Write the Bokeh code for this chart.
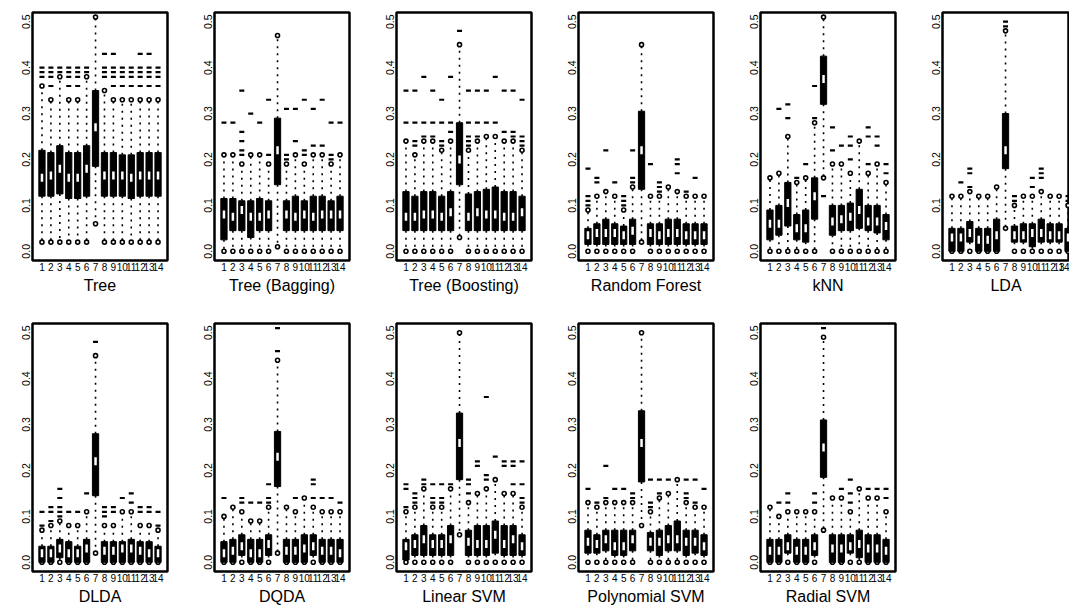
from bokeh.plotting import figure
from bokeh.layouts import gridplot
from bokeh.models import Range1d, FixedTicker, PrintfTickFormatter, ColumnDataSource
from bokeh.embed import file_html
from bokeh.resources import INLINE

POSITIONS = list(range(1, 15))
Y_TICKS = [0.0, 0.1, 0.2, 0.3, 0.4, 0.5]

# ---------------- data (per panel: lower hinge, median, upper hinge, whisker ends, outliers)
tree_q1 = [0.12, 0.12, 0.125, 0.115, 0.115, 0.12, 0.185, 0.12, 0.12, 0.12, 0.115, 0.12, 0.12, 0.12]
tree_med = [0.16, 0.165, 0.18, 0.16, 0.16, 0.18, 0.27, 0.165, 0.165, 0.165, 0.16, 0.165, 0.165, 0.165]
tree_q3 = [0.22, 0.215, 0.23, 0.215, 0.215, 0.23, 0.35, 0.215, 0.215, 0.21, 0.21, 0.215, 0.215, 0.215]
tree_lo = [0.02, 0.02, 0.02, 0.02, 0.02, 0.02, 0.06, 0.02, 0.02, 0.02, 0.02, 0.02, 0.02, 0.02]
tree_hi = [0.36, 0.33, 0.38, 0.33, 0.33, 0.38, 0.51, 0.35, 0.33, 0.33, 0.33, 0.33, 0.33, 0.33]
tree_out = [[0.38, 0.39, 0.40], [0.36, 0.38, 0.39, 0.40], [0.39, 0.40], [0.36, 0.38, 0.39, 0.40],
            [0.36, 0.38, 0.39, 0.40], [0.39, 0.40], [], [0.38, 0.39, 0.40, 0.43],
            [0.36, 0.38, 0.39, 0.40, 0.43], [0.36, 0.38, 0.39, 0.40], [0.36, 0.38, 0.39, 0.40],
            [0.36, 0.38, 0.39, 0.40, 0.43], [0.36, 0.38, 0.39, 0.40, 0.43], [0.36, 0.38, 0.39, 0.40]]

bag_q1 = [0.025, 0.045, 0.045, 0.03, 0.045, 0.045, 0.145, 0.045, 0.045, 0.045, 0.045, 0.045, 0.045, 0.045]
bag_med = [0.08, 0.075, 0.09, 0.075, 0.075, 0.08, 0.22, 0.08, 0.075, 0.08, 0.075, 0.08, 0.08, 0.08]
bag_q3 = [0.115, 0.115, 0.11, 0.11, 0.115, 0.11, 0.29, 0.11, 0.12, 0.11, 0.12, 0.12, 0.11, 0.12]
bag_lo = [0.0, 0.0, 0.0, 0.0, 0.0, 0.0, 0.01, 0.0, 0.0, 0.0, 0.0, 0.0, 0.0, 0.0]
bag_hi = [0.21, 0.21, 0.19, 0.21, 0.21, 0.19, 0.47, 0.19, 0.21, 0.19, 0.21, 0.21, 0.19, 0.21]
bag_out = [[0.28], [0.28], [0.21, 0.22, 0.24, 0.26, 0.35], [0.30], [0.28], [0.21, 0.33], [],
           [0.20, 0.21, 0.31], [0.24, 0.31], [0.21, 0.22, 0.33], [0.23, 0.31], [0.23, 0.33],
           [0.20, 0.21, 0.28], [0.28]]

boost_q1 = [0.045, 0.045, 0.045, 0.045, 0.045, 0.045, 0.145, 0.045, 0.045, 0.045, 0.045, 0.045, 0.045, 0.045]
boost_med = [0.075, 0.075, 0.08, 0.08, 0.075, 0.085, 0.20, 0.075, 0.085, 0.08, 0.08, 0.075, 0.075, 0.085]
boost_q3 = [0.13, 0.12, 0.13, 0.13, 0.12, 0.13, 0.28, 0.125, 0.13, 0.135, 0.14, 0.13, 0.13, 0.12]
boost_lo = [0.0, 0.0, 0.0, 0.0, 0.0, 0.0, 0.03, 0.0, 0.0, 0.0, 0.0, 0.0, 0.0, 0.0]
boost_hi = [0.24, 0.21, 0.24, 0.24, 0.22, 0.24, 0.45, 0.22, 0.24, 0.25, 0.25, 0.24, 0.24, 0.22]
boost_out = [[0.28, 0.35], [0.23, 0.24, 0.28, 0.35], [0.25, 0.28, 0.38], [0.25, 0.28, 0.35],
             [0.23, 0.24, 0.28, 0.33], [0.26, 0.28, 0.38], [0.48], [0.23, 0.24, 0.25, 0.28, 0.35],
             [0.25, 0.28, 0.35], [0.28, 0.35], [0.28, 0.38], [0.26, 0.35], [0.25, 0.26, 0.35],
             [0.23, 0.24, 0.25, 0.33]]

rf_q1 = [0.015, 0.015, 0.015, 0.015, 0.015, 0.015, 0.135, 0.015, 0.015, 0.015, 0.015, 0.015, 0.015, 0.015]
rf_med = [0.035, 0.04, 0.04, 0.04, 0.035, 0.045, 0.22, 0.04, 0.035, 0.04, 0.04, 0.035, 0.035, 0.035]
rf_q3 = [0.05, 0.06, 0.07, 0.06, 0.055, 0.07, 0.305, 0.06, 0.06, 0.07, 0.07, 0.06, 0.06, 0.06]
rf_lo = [0.0, 0.0, 0.0, 0.0, 0.0, 0.0, 0.02, 0.0, 0.0, 0.0, 0.0, 0.0, 0.0, 0.0]
rf_hi = [0.09, 0.12, 0.13, 0.12, 0.09, 0.14, 0.45, 0.12, 0.12, 0.14, 0.13, 0.12, 0.12, 0.12]
rf_out = [[0.10, 0.11, 0.12, 0.18], [0.15, 0.16], [0.22], [0.15], [0.10, 0.11, 0.12],
          [0.15, 0.16, 0.22], [], [0.19], [0.13, 0.14, 0.15], [], [0.17, 0.19, 0.20], [0.13],
          [0.16], []]

knn_q1 = [0.025, 0.035, 0.055, 0.025, 0.02, 0.07, 0.32, 0.035, 0.045, 0.045, 0.05, 0.045, 0.04, 0.025]
knn_med = [0.06, 0.06, 0.105, 0.05, 0.05, 0.12, 0.375, 0.065, 0.07, 0.075, 0.09, 0.065, 0.065, 0.055]
knn_q3 = [0.09, 0.10, 0.15, 0.08, 0.09, 0.16, 0.425, 0.10, 0.10, 0.105, 0.135, 0.10, 0.10, 0.08]
knn_lo = [0.0, 0.0, 0.0, 0.0, 0.0, 0.0, 0.16, 0.0, 0.0, 0.0, 0.0, 0.0, 0.0, 0.0]
knn_hi = [0.16, 0.17, 0.25, 0.15, 0.16, 0.28, 0.51, 0.19, 0.19, 0.17, 0.24, 0.17, 0.19, 0.15]
knn_out = [[], [0.31], [0.29, 0.32], [0.16], [0.19], [0.29, 0.36], [0.12], [0.22, 0.27], [0.23],
           [0.20, 0.23, 0.25], [], [0.19, 0.25, 0.27], [0.23, 0.25], [0.17, 0.19]]

lda_q1 = [0.0, 0.0, 0.02, 0.0, 0.0, 0.0, 0.18, 0.02, 0.02, 0.01, 0.02, 0.02, 0.02, 0.0]
lda_med = [0.03, 0.03, 0.04, 0.025, 0.025, 0.035, 0.22, 0.035, 0.035, 0.04, 0.04, 0.035, 0.035, 0.03]
lda_q3 = [0.05, 0.05, 0.065, 0.05, 0.05, 0.07, 0.30, 0.055, 0.06, 0.06, 0.07, 0.06, 0.06, 0.05]
lda_lo = [0.0, 0.0, 0.0, 0.0, 0.0, 0.0, 0.05, 0.0, 0.0, 0.0, 0.0, 0.0, 0.0, 0.0]
lda_hi = [0.12, 0.12, 0.13, 0.12, 0.12, 0.14, 0.48, 0.10, 0.12, 0.12, 0.13, 0.12, 0.12, 0.10]
lda_out = [[], [0.15], [0.14, 0.17, 0.18], [], [], [], [0.49, 0.50], [0.11, 0.12], [], [0.14, 0.16],
           [0.16, 0.17, 0.18], [], [], [0.11, 0.12]]

dlda_q1 = [0.0, 0.0, 0.01, 0.0, 0.0, 0.0, 0.145, 0.0, 0.0, 0.0, 0.0, 0.0, 0.0, 0.0]
dlda_med = [0.02, 0.02, 0.03, 0.02, 0.02, 0.03, 0.22, 0.025, 0.025, 0.03, 0.03, 0.025, 0.02, 0.02]
dlda_q3 = [0.035, 0.035, 0.05, 0.045, 0.035, 0.05, 0.28, 0.045, 0.045, 0.045, 0.05, 0.045, 0.045, 0.035]
dlda_lo = [0.0, 0.0, 0.0, 0.0, 0.0, 0.0, 0.02, 0.0, 0.0, 0.0, 0.0, 0.0, 0.0, 0.0]
dlda_hi = [0.07, 0.08, 0.09, 0.08, 0.08, 0.11, 0.45, 0.08, 0.08, 0.11, 0.11, 0.08, 0.08, 0.07]
dlda_out = [[0.08, 0.11], [0.09, 0.11, 0.12], [0.10, 0.11, 0.12, 0.14, 0.16], [0.11], [0.11], [0.15],
            [0.48], [0.10, 0.11, 0.12], [0.11, 0.12], [0.14], [0.13, 0.15], [0.11, 0.12],
            [0.11, 0.12], [0.08, 0.11]]

dqda_q1 = [0.0, 0.0, 0.015, 0.0, 0.0, 0.015, 0.165, 0.0, 0.0, 0.0, 0.015, 0.0, 0.0, 0.0]
dqda_med = [0.02, 0.025, 0.035, 0.02, 0.02, 0.04, 0.23, 0.025, 0.025, 0.03, 0.035, 0.025, 0.025, 0.02]
dqda_q3 = [0.045, 0.05, 0.06, 0.05, 0.05, 0.06, 0.285, 0.05, 0.05, 0.06, 0.06, 0.05, 0.05, 0.05]
dqda_lo = [0.0, 0.0, 0.0, 0.0, 0.0, 0.0, 0.02, 0.0, 0.0, 0.0, 0.0, 0.0, 0.0, 0.0]
dqda_hi = [0.10, 0.12, 0.11, 0.09, 0.09, 0.12, 0.44, 0.12, 0.11, 0.14, 0.12, 0.11, 0.11, 0.11]
dqda_out = [[0.14], [], [0.13, 0.14], [0.13], [0.13], [0.13, 0.14, 0.17], [0.46, 0.51], [], [0.14],
            [], [0.14, 0.17, 0.18], [0.14], [0.14], [0.13]]

lsvm_q1 = [0.005, 0.015, 0.015, 0.015, 0.015, 0.015, 0.18, 0.015, 0.015, 0.015, 0.02, 0.015, 0.015, 0.015]
lsvm_med = [0.035, 0.04, 0.05, 0.04, 0.04, 0.05, 0.26, 0.045, 0.04, 0.04, 0.06, 0.04, 0.05, 0.035]
lsvm_q3 = [0.05, 0.06, 0.08, 0.06, 0.06, 0.08, 0.325, 0.07, 0.08, 0.08, 0.09, 0.08, 0.08, 0.06]
lsvm_lo = [0.0, 0.0, 0.0, 0.0, 0.0, 0.0, 0.06, 0.0, 0.0, 0.0, 0.0, 0.0, 0.0, 0.0]
lsvm_hi = [0.11, 0.12, 0.16, 0.12, 0.12, 0.16, 0.50, 0.13, 0.15, 0.16, 0.18, 0.15, 0.15, 0.12]
lsvm_out = [[0.12, 0.16, 0.17], [0.13, 0.14, 0.15], [0.17, 0.18], [0.13, 0.14, 0.17],
            [0.13, 0.14, 0.17], [0.17], [], [0.15, 0.17, 0.18], [0.21, 0.22], [0.18, 0.19, 0.36],
            [0.23], [0.21, 0.22], [0.17, 0.21, 0.22], [0.13, 0.14, 0.17, 0.22]]

psvm_q1 = [0.02, 0.02, 0.025, 0.015, 0.015, 0.025, 0.175, 0.025, 0.015, 0.025, 0.025, 0.015, 0.02, 0.015]
psvm_med = [0.045, 0.04, 0.05, 0.035, 0.035, 0.05, 0.26, 0.045, 0.045, 0.05, 0.05, 0.045, 0.045, 0.035]
psvm_q3 = [0.07, 0.06, 0.07, 0.07, 0.07, 0.07, 0.33, 0.065, 0.07, 0.08, 0.09, 0.07, 0.07, 0.06]
psvm_lo = [0.0, 0.0, 0.0, 0.0, 0.0, 0.0, 0.08, 0.0, 0.0, 0.0, 0.0, 0.0, 0.0, 0.0]
psvm_hi = [0.13, 0.12, 0.13, 0.13, 0.13, 0.13, 0.50, 0.11, 0.14, 0.15, 0.18, 0.13, 0.12, 0.12]
psvm_out = [[0.16], [0.13], [0.14, 0.21], [0.16], [0.16], [0.14, 0.15], [], [0.12, 0.13, 0.18],
            [0.15, 0.18], [0.18], [], [0.14, 0.15, 0.18], [0.13, 0.18], [0.16]]

rsvm_q1 = [0.0, 0.0, 0.02, 0.0, 0.0, 0.015, 0.185, 0.0, 0.0, 0.02, 0.01, 0.0, 0.0, 0.0]
rsvm_med = [0.025, 0.025, 0.035, 0.025, 0.025, 0.035, 0.25, 0.03, 0.03, 0.035, 0.04, 0.03, 0.03, 0.025]
rsvm_q3 = [0.05, 0.05, 0.06, 0.05, 0.05, 0.06, 0.31, 0.06, 0.06, 0.06, 0.07, 0.06, 0.06, 0.05]
rsvm_lo = [0.0, 0.0, 0.0, 0.0, 0.0, 0.0, 0.07, 0.0, 0.0, 0.0, 0.0, 0.0, 0.0, 0.0]
rsvm_hi = [0.12, 0.10, 0.11, 0.11, 0.11, 0.11, 0.49, 0.14, 0.14, 0.11, 0.16, 0.14, 0.14, 0.11]
rsvm_out = [[], [0.13], [0.13, 0.15], [], [], [0.13, 0.15], [0.51], [], [0.16], [0.13, 0.15, 0.18],
            [], [0.16], [0.16], [0.14, 0.16]]

PANELS = [
    ("Tree", tree_q1, tree_med, tree_q3, tree_lo, tree_hi, tree_out),
    ("Tree (Bagging)", bag_q1, bag_med, bag_q3, bag_lo, bag_hi, bag_out),
    ("Tree (Boosting)", boost_q1, boost_med, boost_q3, boost_lo, boost_hi, boost_out),
    ("Random Forest", rf_q1, rf_med, rf_q3, rf_lo, rf_hi, rf_out),
    ("kNN", knn_q1, knn_med, knn_q3, knn_lo, knn_hi, knn_out),
    ("LDA", lda_q1, lda_med, lda_q3, lda_lo, lda_hi, lda_out),
    ("DLDA", dlda_q1, dlda_med, dlda_q3, dlda_lo, dlda_hi, dlda_out),
    ("DQDA", dqda_q1, dqda_med, dqda_q3, dqda_lo, dqda_hi, dqda_out),
    ("Linear SVM", lsvm_q1, lsvm_med, lsvm_q3, lsvm_lo, lsvm_hi, lsvm_out),
    ("Polynomial SVM", psvm_q1, psvm_med, psvm_q3, psvm_lo, psvm_hi, psvm_out),
    ("Radial SVM", rsvm_q1, rsvm_med, rsvm_q3, rsvm_lo, rsvm_hi, rsvm_out),
]

FONT = "Liberation Sans"
FRAME_W = 135
FRAME_H = 248
BORDER_L = 32
BORDER_R = 15
X0, X1 = -0.06, 15.06
PX_PER_UNIT = FRAME_W / (X1 - X0)


def make_panel(name, q1, med, q3, lo, hi, out, border_bottom, frame_w=FRAME_W, border_right=BORDER_R):
    x_end = X0 + frame_w / PX_PER_UNIT
    p = figure(frame_width=frame_w, frame_height=FRAME_H,
               x_range=Range1d(X0, x_end), y_range=Range1d(-0.02, 0.52),
               output_backend="svg", toolbar_location=None, title=None,
               min_border_left=BORDER_L, min_border_right=border_right,
               min_border_top=12, min_border_bottom=border_bottom)
    p.grid.visible = False
    p.outline_line_color = "black"
    p.outline_line_width = 2.5
    p.background_fill_color = "white"
    p.border_fill_color = "white"

    # whiskers (dotted)
    wx, wy0, wy1 = [], [], []
    for i, x in enumerate(POSITIONS):
        if hi[i] > q3[i]:
            wx.append(x); wy0.append(q3[i]); wy1.append(hi[i])
        if lo[i] < q1[i]:
            wx.append(x); wy0.append(q1[i]); wy1.append(lo[i])
    p.segment(x0=wx, y0=wy0, x1=wx, y1=wy1, line_color="black", line_width=1.6, line_dash="2 5")

    # whisker ends
    ex = POSITIONS + POSITIONS
    ey = list(hi) + list(lo)
    p.scatter(ex, ey, marker="circle", size=4, fill_color="white",
              line_color="black", line_width=1.6)

    # outliers
    ox, oy = [], []
    for i, x in enumerate(POSITIONS):
        for v in out[i]:
            ox.append(x); oy.append(v)
    p.scatter(ox, oy, marker="dash", size=5, line_color="black", line_width=2.2)

    # boxes
    src = ColumnDataSource(dict(x=POSITIONS, q1=q1, q3=q3, med=med))
    p.vbar(x="x", bottom="q1", top="q3", width=0.7, source=src,
           fill_color="black", line_color="black", line_width=1)
    p.rect(x="x", y="med", width=2.5, height=8, width_units="screen", height_units="screen",
           source=src, fill_color="white", line_color=None)

    # axes
    xa = p.xaxis[0]
    xa.ticker = FixedTicker(ticks=POSITIONS)
    xa.major_label_text_font = FONT
    xa.major_label_text_font_size = "10px"
    xa.major_label_text_color = "black"
    xa.major_tick_out = 0
    xa.major_tick_in = 0
    xa.minor_tick_out = 0
    xa.minor_tick_in = 0
    xa.axis_line_color = None
    xa.major_label_standoff = 2
    xa.axis_label = name
    xa.axis_label_text_font = FONT
    xa.axis_label_text_font_size = "16px"
    xa.axis_label_text_font_style = "normal"
    xa.axis_label_text_color = "black"
    xa.axis_label_standoff = 3

    ya = p.yaxis[0]
    ya.ticker = FixedTicker(ticks=Y_TICKS)
    ya.formatter = PrintfTickFormatter(format="%.1f")
    ya.major_label_orientation = "vertical"
    ya.major_label_text_font = FONT
    ya.major_label_text_font_size = "10.5px"
    ya.major_label_text_color = "black"
    ya.major_tick_out = 0
    ya.major_tick_in = 0
    ya.minor_tick_out = 0
    ya.minor_tick_in = 0
    ya.axis_line_color = None
    ya.major_label_standoff = 2
    return p


COL_W = BORDER_L + FRAME_W + BORDER_R
figs = []
for k, panel in enumerate(PANELS):
    bb = 51 if k < 6 else 36
    if k == 5:
        f = make_panel(*panel, border_bottom=bb, frame_w=1069 - 5 * COL_W - BORDER_L, border_right=0)
    else:
        f = make_panel(*panel, border_bottom=bb)
    figs.append(f)

grid = gridplot([figs[:6], figs[6:] + [None]], toolbar_location=None)

open("out.html", "w").write(file_html(grid, INLINE))
